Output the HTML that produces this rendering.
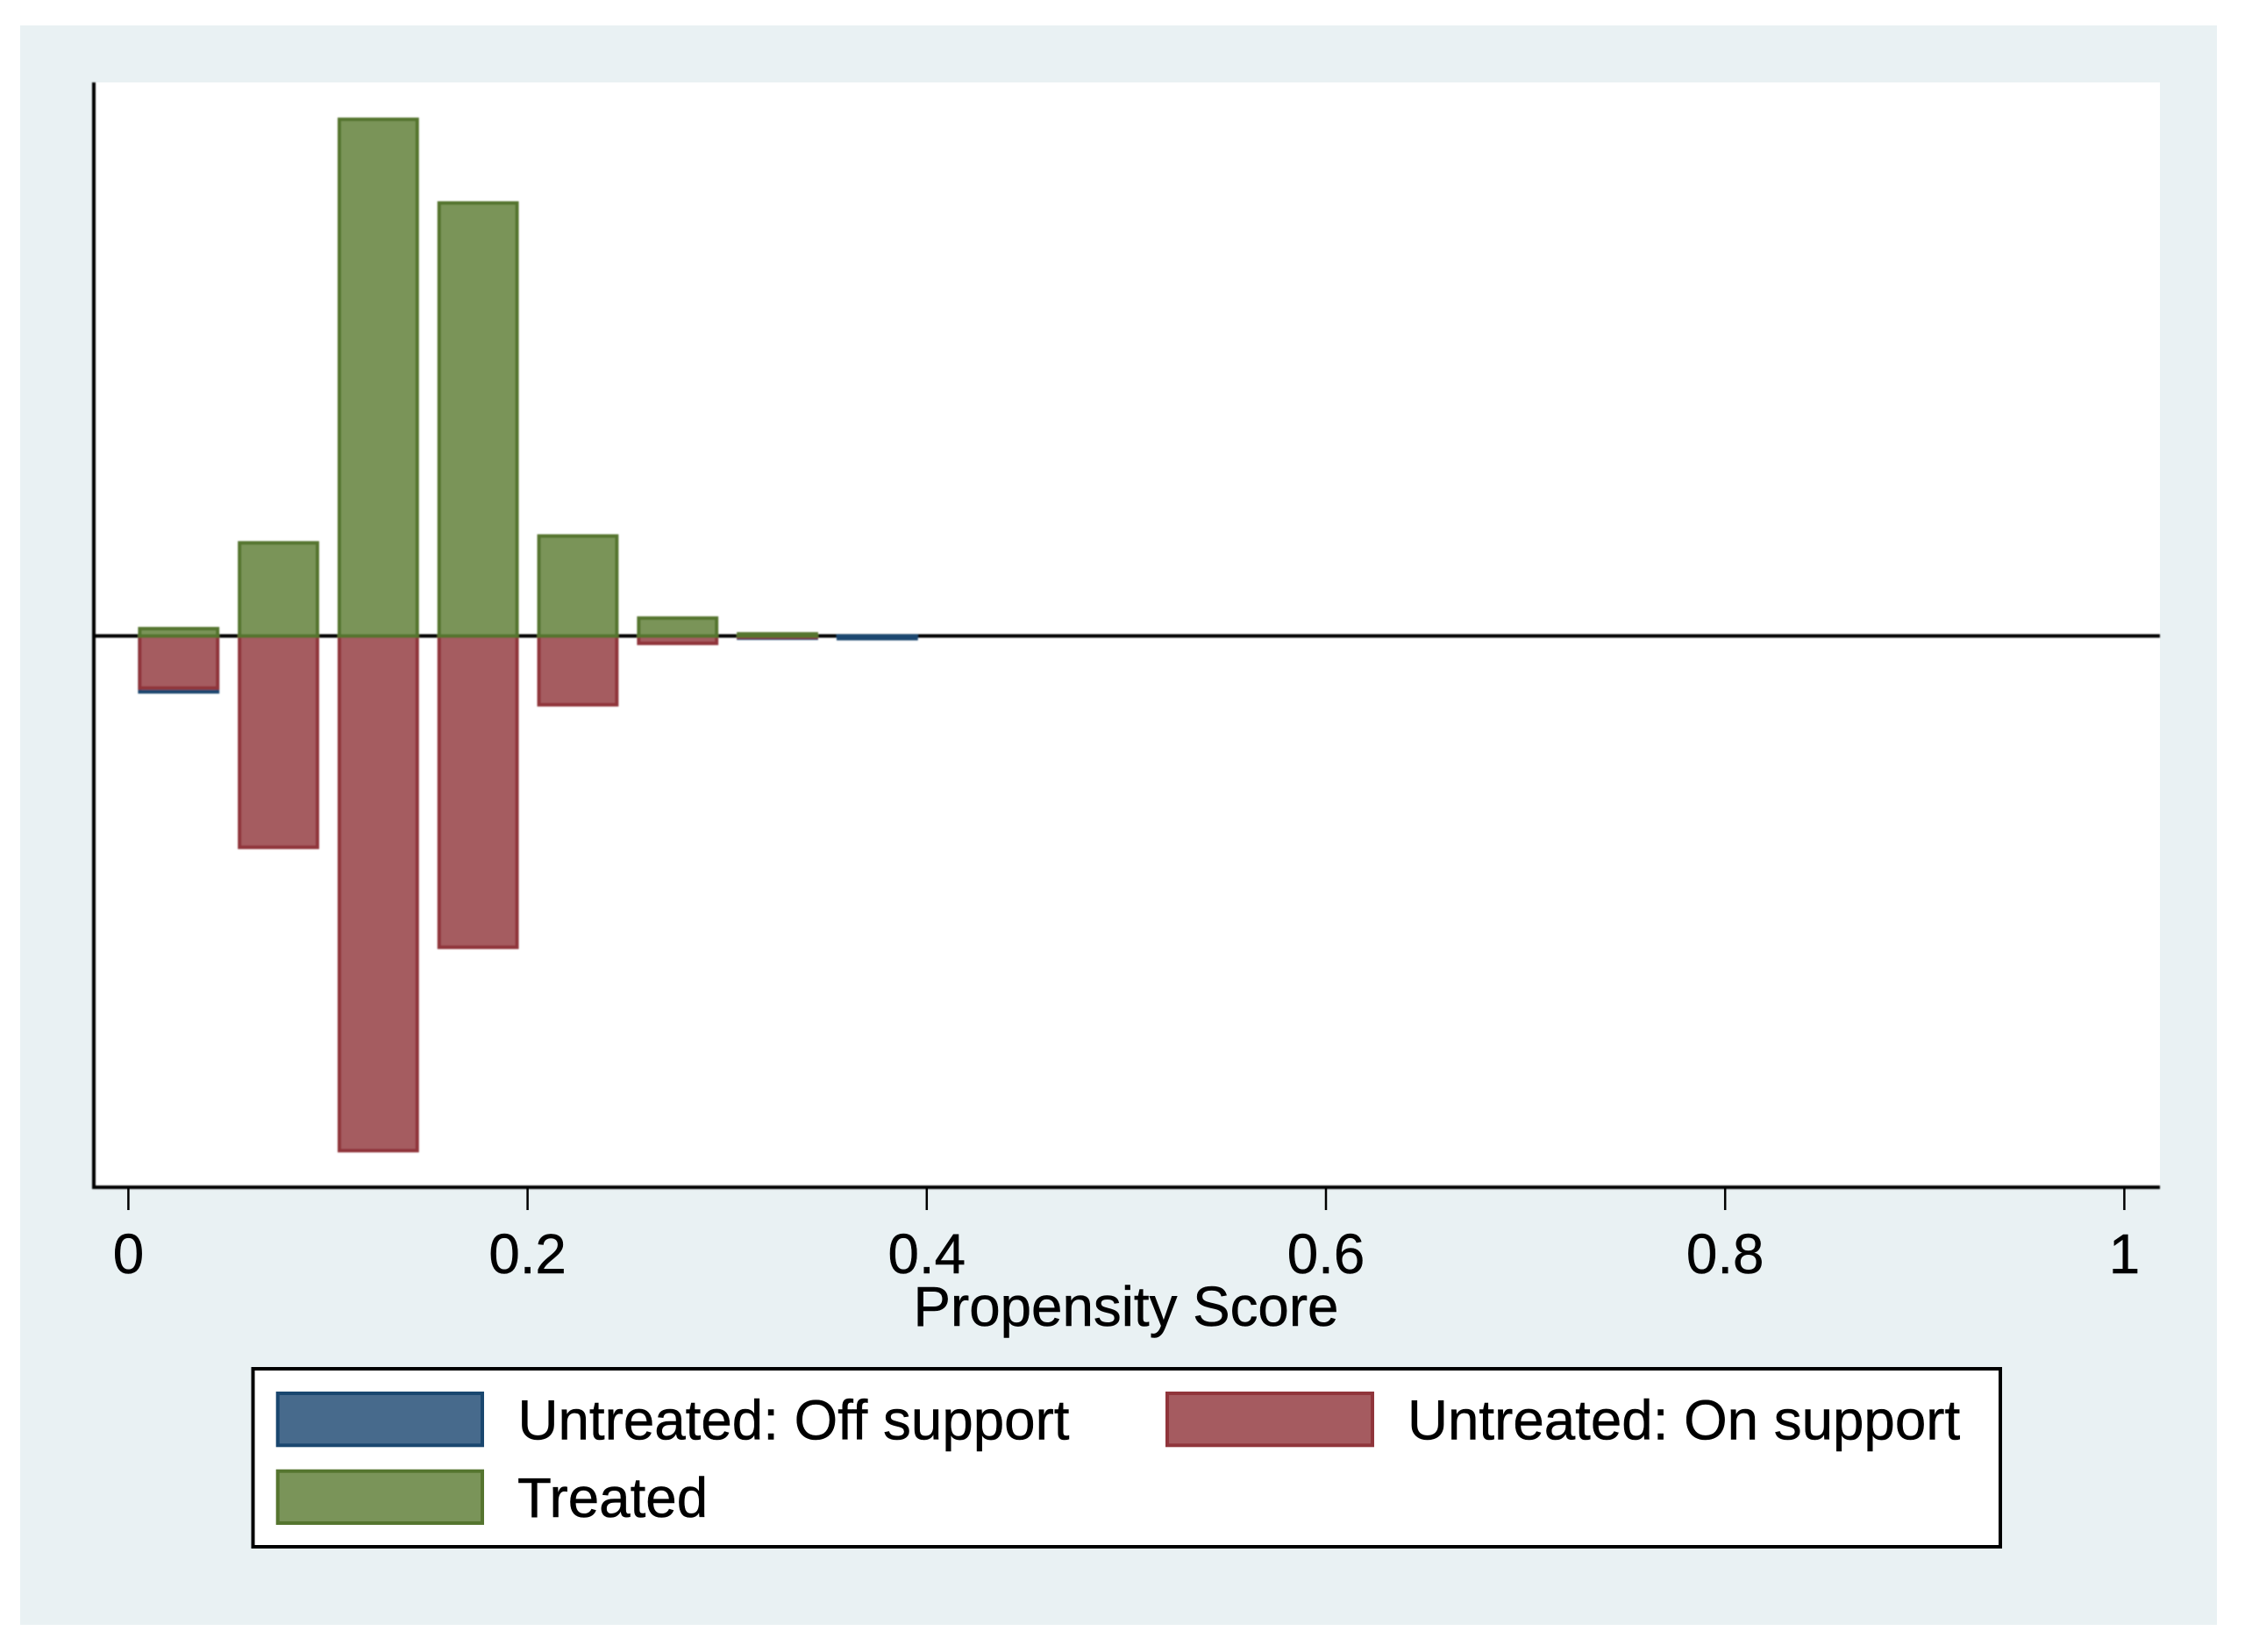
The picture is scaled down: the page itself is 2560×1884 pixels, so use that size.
<!DOCTYPE html>
<html lang="en">
<head>
<meta charset="utf-8">
<title>Propensity Score Histogram</title>
<style>
  html, body { margin: 0; padding: 0; background: #ffffff; }
  #chart { display: block; width: 2560px; height: 1884px; }
  text { font-family: "Liberation Sans", Arial, sans-serif; font-size: 63.7px; fill: #000000; stroke: #000000; stroke-width: 0.5px; }
</style>
</head>
<body>
<svg id="chart" xmlns="http://www.w3.org/2000/svg" width="2560" height="1884" viewBox="0 0 2560 1884">
  <defs>
    <filter id="soft" x="0" y="0" width="2560" height="1884" filterUnits="userSpaceOnUse">
      <feGaussianBlur stdDeviation="0.7"/>
    </filter>
  </defs>
  <rect x="23" y="29" width="2505" height="1824" fill="#e9f1f3"/>
  <rect x="107" y="94" width="2356" height="1260" fill="#ffffff"/>
  <g filter="url(#soft)">
    <line x1="107" y1="725.3" x2="2463" y2="725.3" stroke="#000000" stroke-width="4"/>
    <g id="bars"></g>
    <line x1="107" y1="94" x2="107" y2="1356" stroke="#000000" stroke-width="4"/>
    <line x1="105" y1="1354" x2="2463" y2="1354" stroke="#000000" stroke-width="4"/>
  </g>
  <g id="xticks"></g>
  <text x="1284" y="1512" text-anchor="middle">Propensity Score</text>

  <g>
    <rect x="288.5" y="1561" width="1992.5" height="203" fill="#ffffff" stroke="#000000" stroke-width="4"/>
    <rect x="316.7" y="1589" width="233.3" height="59.3" fill="#476a8c" stroke="#1a476f" stroke-width="4"/>
    <text x="590.5" y="1641.7">Untreated: Off support</text>
    <rect x="1331" y="1589" width="234" height="59.3" fill="#a55b60" stroke="#90353b" stroke-width="4"/>
    <text x="1605" y="1641.7">Untreated: On support</text>
    <rect x="316.7" y="1677.7" width="233.3" height="59.3" fill="#7a9459" stroke="#55752f" stroke-width="4"/>
    <text x="590" y="1730">Treated</text>
  </g>
</svg>
<script>
const binCenters = [0.0252, 0.0752, 0.1252, 0.1752, 0.2252, 0.2752, 0.3252, 0.3752];
const treatedValues = [1.39, 17.7, 98.2, 82.3, 19.0, 3.4, 0.4, 0];
const untreatedOnValues = [9.9, 40.17, 97.82, 59.17, 13.07, 1.4, 0.22, 0];
const untreatedOffValues = [0.72, 0, 0, 0, 0, 0, 0.2, 0.5];
const tickValues = [0, 0.2, 0.4, 0.6, 0.8, 1];
const tickLabels = ["0", "0.2", "0.4", "0.6", "0.8", "1"];
const binWidth = 0.039;

const SVG_NS = "http://www.w3.org/2000/svg";
const xScale = function (v) { return 146.4 + v * 2276; };
const yScale = function (v) { return 725.3 - v * 6; };

const barsGroup = document.getElementById("bars");
const ticksGroup = document.getElementById("xticks");

function makeBar(center, lower, upper, fill, stroke) {
  const el = document.createElementNS(SVG_NS, "rect");
  const x0 = xScale(center - binWidth / 2);
  const x1 = xScale(center + binWidth / 2);
  const yTop = yScale(Math.max(lower, upper));
  const yBottom = yScale(Math.min(lower, upper));
  el.setAttribute("x", x0);
  el.setAttribute("y", yTop);
  el.setAttribute("width", x1 - x0);
  el.setAttribute("height", yBottom - yTop);
  el.setAttribute("fill", fill);
  el.setAttribute("stroke", stroke);
  el.setAttribute("stroke-width", "4");
  
  barsGroup.appendChild(el);
  return el;
}

binCenters.forEach(function (center, i) {
  const on = untreatedOnValues[i];
  const off = untreatedOffValues[i];
  const treated = treatedValues[i];
  if (off > 0) {
    const offBar = makeBar(center, 0, -(on + off), "#476a8c", "#1a476f");
    
  }
  if (on > 0) {
    const onBar = makeBar(center, 0, -on, "#a55b60", "#90353b");
    
  }
  if (treated > 0) {
    const treatedBar = makeBar(center, 0, treated, "#7a9459", "#55752f");
    
  }
});

tickValues.forEach(function (value, i) {
  const tick = document.createElementNS(SVG_NS, "line");
  
  
  tick.setAttribute("x1", xScale(value));
  tick.setAttribute("x2", xScale(value));
  tick.setAttribute("y1", 1355);
  tick.setAttribute("y2", 1380);
  tick.setAttribute("stroke", "#000000");
  tick.setAttribute("stroke-width", "2.5");
  ticksGroup.appendChild(tick);

  const label = document.createElementNS(SVG_NS, "text");
  
  
  label.setAttribute("x", xScale(value));
  label.setAttribute("y", 1452);
  label.setAttribute("text-anchor", "middle");
  label.textContent = tickLabels[i];
  ticksGroup.appendChild(label);
});
</script>
</body>
</html>
